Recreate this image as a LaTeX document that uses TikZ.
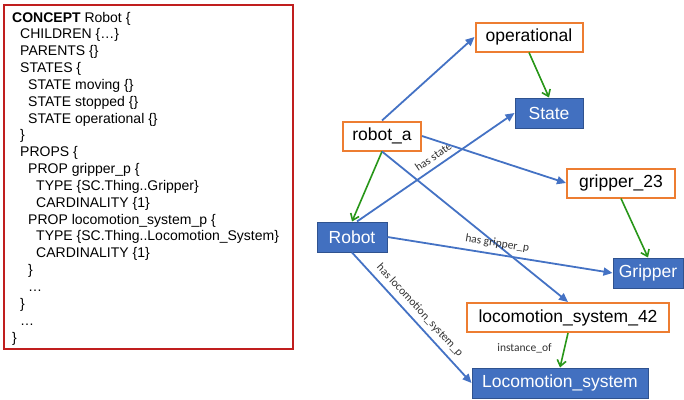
\documentclass[tikz,border=0pt]{standalone}
\usepackage{fontspec}
\setmainfont{Liberation Sans}
\newfontfamily\lblfont{Carlito}
\usetikzlibrary{arrows.meta}
\definecolor{ora}{RGB}{237,125,49}
\definecolor{bfill}{RGB}{66,112,192}
\definecolor{bdark}{RGB}{47,82,143}
\definecolor{bline}{RGB}{68,114,196}
\definecolor{gline}{RGB}{40,150,25}
\definecolor{rbox}{RGB}{192,30,30}
\definecolor{lbl}{RGB}{50,50,50}
\begin{document}
\begin{tikzpicture}[x=1pt,y=-1pt,
  code/.style={anchor=base west, inner sep=0pt, font=\fontsize{14}{16}\selectfont},
  inst/.style={draw=ora, line width=2pt, fill=white, inner sep=0pt, minimum height=29pt,
    font=\fontsize{17.5}{20}\selectfont},
  cls/.style={draw=bdark, line width=1pt, fill=bfill, text=white, inner sep=0pt, minimum height=30pt,
    font=\fontsize{17.5}{20}\selectfont},
  rel/.style={draw=bline, line width=1.8pt, -{Triangle[length=9pt,width=8pt]}},
  isa/.style={draw=gline, line width=1.6pt, -{Straight Barb[length=6pt,width=9pt]}},
  elbl/.style={font=\lblfont\fontsize{11.5}{13}\selectfont, text=lbl, inner sep=0pt}
]
\useasboundingbox (0,0) rectangle (684,399);
% code box
\draw[rbox, line width=2pt] (4,5) rectangle (293,349);
\node[code] (l1) at (12,22.0) {\textbf{CONCEPT} Robot \{};
\node[code] (l2) at (20,38.8) {CHILDREN \{…\}};
\node[code] (l3) at (20,55.7) {PARENTS \{\}};
\node[code] (l4) at (20,72.5) {STATES \{};
\node[code] (l5) at (28,89.4) {STATE moving \{\}};
\node[code] (l6) at (28,106.2) {STATE stopped \{\}};
\node[code] (l7) at (28,123.0) {STATE operational \{\}};
\node[code] (l8) at (20,139.9) {\}};
\node[code] (l9) at (20,156.7) {PROPS \{};
\node[code] (l10) at (28,173.6) {PROP gripper\_p \{};
\node[code] (l11) at (36,190.4) {TYPE \{SC.Thing..Gripper\}};
\node[code] (l12) at (36,207.2) {CARDINALITY \{1\}};
\node[code] (l13) at (28,224.1) {PROP locomotion\_system\_p \{};
\node[code] (l14) at (36,240.9) {TYPE \{SC.Thing..Locomotion\_System\}};
\node[code] (l15) at (36,257.8) {CARDINALITY \{1\}};
\node[code] (l16) at (28,274.6) {\}};
\node[code] (l17) at (28,291.4) {…};
\node[code] (l18) at (20,308.3) {\}};
\node[code] (l19) at (20,325.1) {…};
\node[code] (l20) at (12,342.0) {\}};
% graph nodes
\node[inst, minimum width=107pt] (oper) at (529,37) {operational};
\node[cls, minimum width=68pt] (state) at (549,113) {State};
\node[inst, minimum width=78pt] (robota) at (382,136) {robot\_a};
\node[inst, minimum width=108pt] (grip23) at (621,183) {gripper\_23};
\node[cls, minimum width=70pt] (robot) at (352,237) {Robot};
\node[cls, minimum width=70pt] (gripper) at (648,273) {Gripper};
\node[inst, minimum width=202pt] (loc42) at (568,317.5) {locomotion\_system\_42};
\node[cls, minimum width=176pt] (locsys) at (560,383) {Locomotion\_system};
% connectors
\draw[rel] (robota.north) -- (oper.west);
\draw[isa] (robota.south) -- (robot.north);
\draw[rel] ([xshift=5pt]robot.north) -- node[elbl, pos=0.52, sloped, above=5pt] (lhs) {has state} (state.west);
\draw[rel] (robota.east) -- (grip23.west);
\draw[rel] (robota.south) -- (loc42.north);
\draw[isa] (oper.south) -- (state.north);
\draw[isa] (grip23.south) -- (gripper.north);
\draw[rel] (robot.east) -- node[elbl, pos=0.48, sloped, above=5pt] (lhg) {has gripper\_p} (gripper.west);
\draw[rel] (robot.south) -- node[elbl, pos=0.5, sloped, above=5pt] (lhl) {has locomotion\_system\_p} (locsys.west);
\draw[isa] (loc42.south) -- node[elbl, pos=0.45, left=12pt] (lio) {instance\_of} (locsys.north);
\end{tikzpicture}
\end{document}
